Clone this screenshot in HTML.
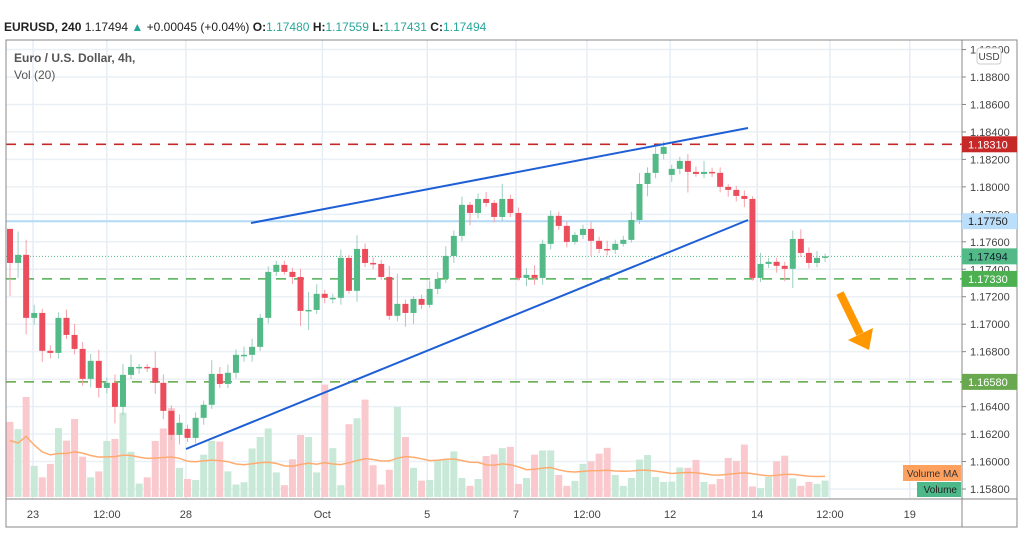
<!DOCTYPE html>
<html><head><meta charset="utf-8"><style>
html,body{margin:0;padding:0;background:#fff;width:1024px;height:560px;overflow:hidden;font-family:"Liberation Sans",sans-serif}
svg text{font-family:"Liberation Sans",sans-serif}
</style></head><body>
<svg id="chart" width="1024" height="560" xmlns="http://www.w3.org/2000/svg">
<g id="grid"></g>
<g id="vol"></g>
<g id="levels"></g>
<g id="candles"></g>
<g id="draw">
 <line x1="251" y1="223" x2="748" y2="128" stroke="#1e5fd6" stroke-width="2"/>
 <line x1="186" y1="449" x2="748" y2="220" stroke="#1e5fd6" stroke-width="2"/>
 <g>
  <line x1="840" y1="293" x2="860" y2="334" stroke="#ff9800" stroke-width="8"/>
  <polygon points="848,340 873,328 869,350" fill="#ff9800"/>
 </g>
</g>
<g id="axes"></g>
<g>
 <text x="4" y="31" font-size="12" fill="#222"><tspan font-weight="bold">EURUSD, 240</tspan> 1.17494 <tspan fill="#26a69a">▲</tspan> +0.00045 (+0.04%) <tspan font-weight="bold">O:</tspan><tspan fill="#26a69a">1.17480</tspan> <tspan font-weight="bold">H:</tspan><tspan fill="#26a69a">1.17559</tspan> <tspan font-weight="bold">L:</tspan><tspan fill="#26a69a">1.17431</tspan> <tspan font-weight="bold">C:</tspan><tspan fill="#26a69a">1.17494</tspan></text>
 <text x="14" y="62" font-size="12" fill="#555" font-weight="bold">Euro / U.S. Dollar, 4h,</text>
 <text x="14" y="79" font-size="12" fill="#555">Vol (20)</text>
</g>
</svg>
<script>
const opens=[1.17694,1.17446,1.17505,1.17046,1.17082,1.16806,1.16791,1.17046,1.16922,1.16820,1.16602,1.16733,1.16536,1.16573,1.16398,1.16631,1.16689,1.16689,1.16682,1.16573,1.16369,1.16194,1.16238,1.16172,1.16318,1.16413,1.16638,1.16565,1.16646,1.16777,1.16777,1.16835,1.17046,1.17381,1.17432,1.17381,1.17344,1.17097,1.17104,1.17221,1.17192,1.17192,1.17483,1.17243,1.17548,1.17446,1.17439,1.17344,1.17061,1.17148,1.17082,1.17184,1.17141,1.17257,1.17330,1.17497,1.17643,1.17869,1.17810,1.17912,1.17883,1.17781,1.17912,1.17810,1.17337,1.17359,1.17337,1.17585,1.17789,1.17716,1.17599,1.17650,1.17694,1.17607,1.17548,1.17541,1.17585,1.17614,1.17759,1.18021,1.18102,1.18240,1.18087,1.18131,1.18189,1.18109,1.18094,1.18109,1.18102,1.18000,1.17978,1.17934,1.17912,1.17337,1.17439,1.17454,1.17425,1.17403,1.17621,1.17519,1.17446,1.17483];
const closes=[1.17446,1.17505,1.17046,1.17082,1.16806,1.16791,1.17046,1.16922,1.16820,1.16602,1.16733,1.16536,1.16573,1.16398,1.16631,1.16689,1.16689,1.16682,1.16573,1.16369,1.16194,1.16282,1.16172,1.16318,1.16413,1.16638,1.16565,1.16646,1.16777,1.16777,1.16835,1.17046,1.17381,1.17432,1.17381,1.17344,1.17097,1.17104,1.17221,1.17192,1.17192,1.17483,1.17243,1.17548,1.17446,1.17439,1.17344,1.17061,1.17148,1.17082,1.17184,1.17141,1.17257,1.17330,1.17497,1.17643,1.17869,1.17810,1.17912,1.17883,1.17781,1.17912,1.17810,1.17337,1.17359,1.17337,1.17585,1.17789,1.17716,1.17599,1.17650,1.17694,1.17607,1.17548,1.17541,1.17585,1.17614,1.17759,1.18021,1.18102,1.18240,1.18291,1.18131,1.18189,1.18109,1.18094,1.18109,1.18102,1.18000,1.17978,1.17934,1.17912,1.17337,1.17439,1.17454,1.17425,1.17403,1.17621,1.17519,1.17446,1.17483,1.17494];
const upWickPips=[0,17,11,6,3,4,4,6,8,5,5,8,4,6,8,9,2,2,12,6,4,6,3,4,3,10,5,6,4,6,6,3,4,3,3,3,6,13,7,3,3,6,2,10,4,4,3,8,22,3,2,3,6,5,7,4,6,2,4,5,2,11,3,4,5,7,3,4,3,3,2,3,5,3,6,3,3,6,8,4,5,4,3,3,5,4,8,3,4,2,3,4,2,8,3,3,3,6,7,4,5,2];
const dnWickPips=[24,11,12,5,8,4,4,3,4,5,6,7,4,12,6,3,5,3,8,6,4,7,3,4,5,3,3,3,4,5,5,3,4,3,2,5,11,14,3,4,4,5,2,8,3,4,2,3,4,10,8,3,2,4,3,5,4,9,4,3,4,3,3,2,6,5,5,4,3,4,2,3,11,3,4,3,2,2,3,9,4,4,5,4,15,2,3,3,4,5,4,6,2,3,3,5,9,14,3,4,3,3];
const volumes=[229,207,305,95,60,101,210,172,238,123,60,78,171,177,257,138,41,60,171,209,271,89,55,52,129,171,169,78,38,45,148,183,209,75,36,115,189,183,75,343,149,36,222,240,297,97,38,83,275,183,89,50,52,114,115,139,58,34,55,125,130,149,153,40,58,129,142,142,67,34,49,101,109,132,150,67,34,58,114,128,61,46,47,90,89,113,46,39,55,119,110,160,32,27,61,109,126,57,34,46,40,50];
const priceTicks=[1.158,1.16,1.162,1.164,1.166,1.168,1.17,1.172,1.174,1.176,1.178,1.18,1.182,1.184,1.186,1.188,1.19];
const timeLabels=["23","12:00","28","Oct","5","7","12:00","12","14","12:00","19"];
const timeIdx=[2.85,12,21.8,38.7,51.7,62.7,71.5,81.8,92.6,101.6,111.5];
const levelPrices=[1.1831,1.1775,1.1733,1.1658];
const lastPrice=1.17494;

const NS="http://www.w3.org/2000/svg";
const X=i=>10+i*8.07;
const Y=p=>77+(1.188-p)*13733;
const VY=v=>497-v/3.05;
function mk(tag,attrs,parent){const e=document.createElementNS(NS,tag);for(const k in attrs)e.setAttribute(k,attrs[k]);parent.appendChild(e);return e;}
const grid=document.getElementById('grid'),vol=document.getElementById('vol'),lev=document.getElementById('levels'),cg=document.getElementById('candles'),ax=document.getElementById('axes');
priceTicks.forEach(p=>{const l=mk('line',{x1:6,x2:962,y1:Y(p),y2:Y(p),stroke:'#eaf0f5','stroke-width':1.5},grid);

});
timeIdx.forEach(t=>{const l=mk('line',{x1:X(t),x2:X(t),y1:40,y2:499,stroke:'#e6eef5','stroke-width':1.5},grid);

});
volumes.forEach((v,i)=>{const up=closes[i]>=opens[i];const r=mk('rect',{x:X(i)-3.5,y:VY(v),width:7,height:497-VY(v),fill:up?'#c8e8d8':'#f9c9ce'},vol);

});
let pts=[];for(let i=0;i<volumes.length;i++){const s=volumes.slice(Math.max(0,i-19),i+1);const m=s.reduce((a,b)=>a+b,0)/s.length;pts.push(X(i)+','+VY(m*0.7+12).toFixed(1));}
const ma=mk('polyline',{points:pts.join(' '),fill:'none',stroke:'#ffab70','stroke-width':1.5},vol);


const lvStyle=[['#c62828','10,8',1.6],['#b3d9f7','',2],['#4caf50','10,8',1.6],['#5da542','10,8',1.6]];
levelPrices.forEach((p,k)=>{const l=mk('line',{x1:6,x2:962,y1:Y(p),y2:Y(p),stroke:lvStyle[k][0],'stroke-width':lvStyle[k][2],'stroke-dasharray':lvStyle[k][1]},lev);

});
const lp=mk('line',{x1:6,x2:962,y1:Y(lastPrice),y2:Y(lastPrice),stroke:'#53b987','stroke-width':1,'stroke-dasharray':'1,2'},lev);


closes.forEach((c,i)=>{const o=opens[i];const up=c>=o;const col=up?'#53b987':'#eb4d5c';const wc=up?'#9ccfc0':'#f5a3ab';
const hi=Math.max(o,c)+upWickPips[i]*0.0001,lo=Math.min(o,c)-dnWickPips[i]*0.0001;
const w=mk('line',{x1:X(i),x2:X(i),y1:Y(hi),y2:Y(lo),stroke:wc,'stroke-width':1},cg);


const top=Y(Math.max(o,c)),bh=Math.max(1.5,Math.abs(Y(o)-Y(c)));
const b=mk('rect',{x:X(i)-3,y:top,width:6,height:bh,fill:col},cg);

});
mk('rect',{x:6,y:40,width:1011,height:487,fill:'none',stroke:'#888','stroke-width':1},ax);
mk('line',{x1:962,x2:962,y1:40,y2:527,stroke:'#888'},ax);
mk('line',{x1:6,x2:1017,y1:499,y2:499,stroke:'#888'},ax);
priceTicks.forEach(p=>{const y=Y(p);if(y<44)return;mk('line',{x1:962,x2:966,y1:y,y2:y,stroke:'#888'},ax);
const t=mk('text',{x:970,y:y+4,'font-size':11,fill:'#444'},ax);t.textContent=p.toFixed(5);

});
timeIdx.forEach((ti,k)=>{const t=mk('text',{x:X(ti),y:518,'font-size':11,fill:'#444','text-anchor':'middle'},ax);t.textContent=timeLabels[k];

});
const ub=mk('rect',{x:977,y:48,width:24,height:16,rx:3,fill:'#fff',stroke:'#ccc'},ax);


const ut=mk('text',{x:989,y:60,'font-size':10,fill:'#444','text-anchor':'middle'},ax);ut.textContent='USD';
const labs=[[levelPrices[0],'#c62828','#fff'],[levelPrices[1],'#bbdefb','#222'],[lastPrice,'#53b987','#123'],[levelPrices[2],'#4caf50','#fff'],[levelPrices[3],'#6aa84f','#fff']];
labs.forEach(([p,bg,fg])=>{const y=Y(p);const r=mk('rect',{x:962,y:y-8,width:55,height:16,fill:bg},ax);


const t=mk('text',{x:968,y:y+4,'font-size':11,fill:fg},ax);t.textContent=p.toFixed(5);});
const vm=mk('rect',{x:903,y:465,width:58,height:16,fill:'#ffa15e'},ax);


const vmt=mk('text',{x:958,y:477,'font-size':10,fill:'#333','text-anchor':'end'},ax);vmt.textContent='Volume MA';
const vv=mk('rect',{x:917,y:482,width:44,height:15,fill:'#4db88a'},ax);


const vvt=mk('text',{x:957,y:493,'font-size':10,fill:'#222','text-anchor':'end'},ax);vvt.textContent='Volume';
</script>
</body></html>
